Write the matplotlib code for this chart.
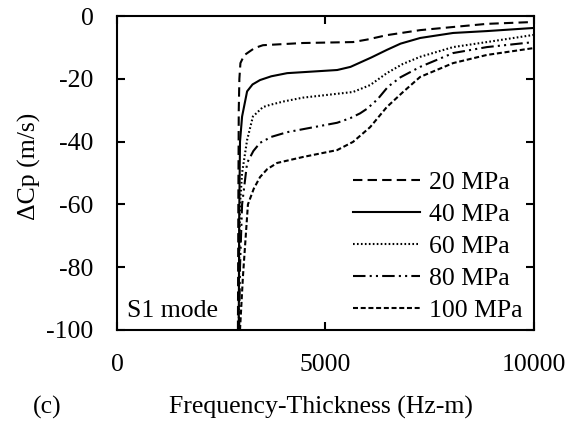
import matplotlib
matplotlib.use("Agg")
import matplotlib.pyplot as plt

# S1 mode, change in phase velocity vs frequency-thickness for each stress level
labels = ["20 MPa", "40 MPa", "60 MPa", "80 MPa", "100 MPa"]

f20 = [2900, 2910, 2920, 2935, 2960, 3050, 3190, 3300, 3500, 4460, 5660, 6000, 6470, 7270, 8060, 8870, 10000]
v20 = [-100, -60, -30, -20, -15, -12.5, -11.2, -10.2, -9.3, -8.6, -8.3, -7.5, -6.1, -4.5, -3.5, -2.5, -1.9]

f40 = [2920, 2930, 2950, 3000, 3120, 3250, 3430, 3700, 4080, 5280, 5600, 6100, 6470, 6800, 7270, 8060, 8870, 10000]
v40 = [-100, -65, -40, -32, -24, -21.8, -20.4, -19.2, -18.2, -17.2, -16.2, -13.2, -10.8, -8.8, -7, -5.4, -4.8, -3.8]

f60 = [2920, 2930, 2950, 3000, 3120, 3260, 3500, 3670, 4000, 4460, 5660, 6070, 6470, 6850, 7270, 8060, 8870, 10000]
v60 = [-100, -80, -60, -50, -39.5, -32, -29, -28.3, -27.2, -26, -24.2, -22, -18.2, -15.3, -13, -9.9, -8.3, -6]

f80 = [2930, 2950, 3000, 3120, 3270, 3430, 3700, 4080, 5280, 5600, 5830, 6000, 6250, 6500, 6800, 7270, 8060, 8870, 10000]
v80 = [-100, -80, -60, -46.8, -43, -40.4, -38.5, -37, -34, -32.5, -31, -29.5, -26.5, -22.5, -19.5, -16.2, -11.8, -9.9, -8.3]

f100 = [2950, 3020, 3140, 3280, 3430, 3600, 3840, 4460, 5280, 5660, 6070, 6470, 6860, 7270, 8060, 8870, 10000]
v100 = [-100, -83, -60, -55, -51.3, -48.8, -46.8, -44.9, -42.7, -40.1, -35.4, -29, -24.2, -19.4, -15, -12.4, -10.2]

xticks = [0, 5000, 10000]
yticks = [0, -20, -40, -60, -80, -100]

plt.rcParams["font.family"] = ["Liberation Serif", "DejaVu Serif"]
plt.rcParams["font.size"] = 18.5
plt.rcParams["axes.unicode_minus"] = False

fig = plt.figure(figsize=(5.69, 4.28), dpi=100)
ax = fig.add_axes([0.2056, 0.229, 0.7329, 0.7336])

styles = [(0, (4.5, 2.5)), "-", (0, (0.8, 1.1)), (0, (6, 2, 1, 2, 1, 2)), (0, (2.4, 1.3))]
series = [(f20, v20), (f40, v40), (f60, v60), (f80, v80), (f100, v100)]
for (xs, ys), ls, lab in zip(series, styles, labels):
    ax.plot(xs, ys, color="black", lw=1.5, ls=ls, label=lab)

ax.set_xlim(0, 10000)
ax.set_ylim(-100, 0)
ax.set_xticks(xticks)
ax.set_yticks(yticks)
ax.tick_params(direction="in", length=6, width=1.5, top=True, right=True, pad=17)
for s in ax.spines.values():
    s.set_linewidth(1.5)

ax.set_xlabel("Frequency-Thickness (Hz-m)")
ax.xaxis.set_label_coords(0.488, -0.248)
ax.xaxis.label.set_va("center")
ax.set_ylabel("ΔCp (m/s)")
ax.yaxis.set_label_coords(-0.209, 0.52)
ax.yaxis.label.set_va("center")
ax.text(0.024, 0.04, "S1 mode", transform=ax.transAxes)
fig.text(47 / 569, 1 - 407 / 428, "(c)", ha="center", va="center")

ax.legend(loc="lower right", bbox_to_anchor=(0.99, 0.0), frameon=False,
          handlelength=2.6, handletextpad=0.35, labelspacing=0.35,
          borderaxespad=0.2, borderpad=0.1)

fig.savefig("out.png", dpi=100)
